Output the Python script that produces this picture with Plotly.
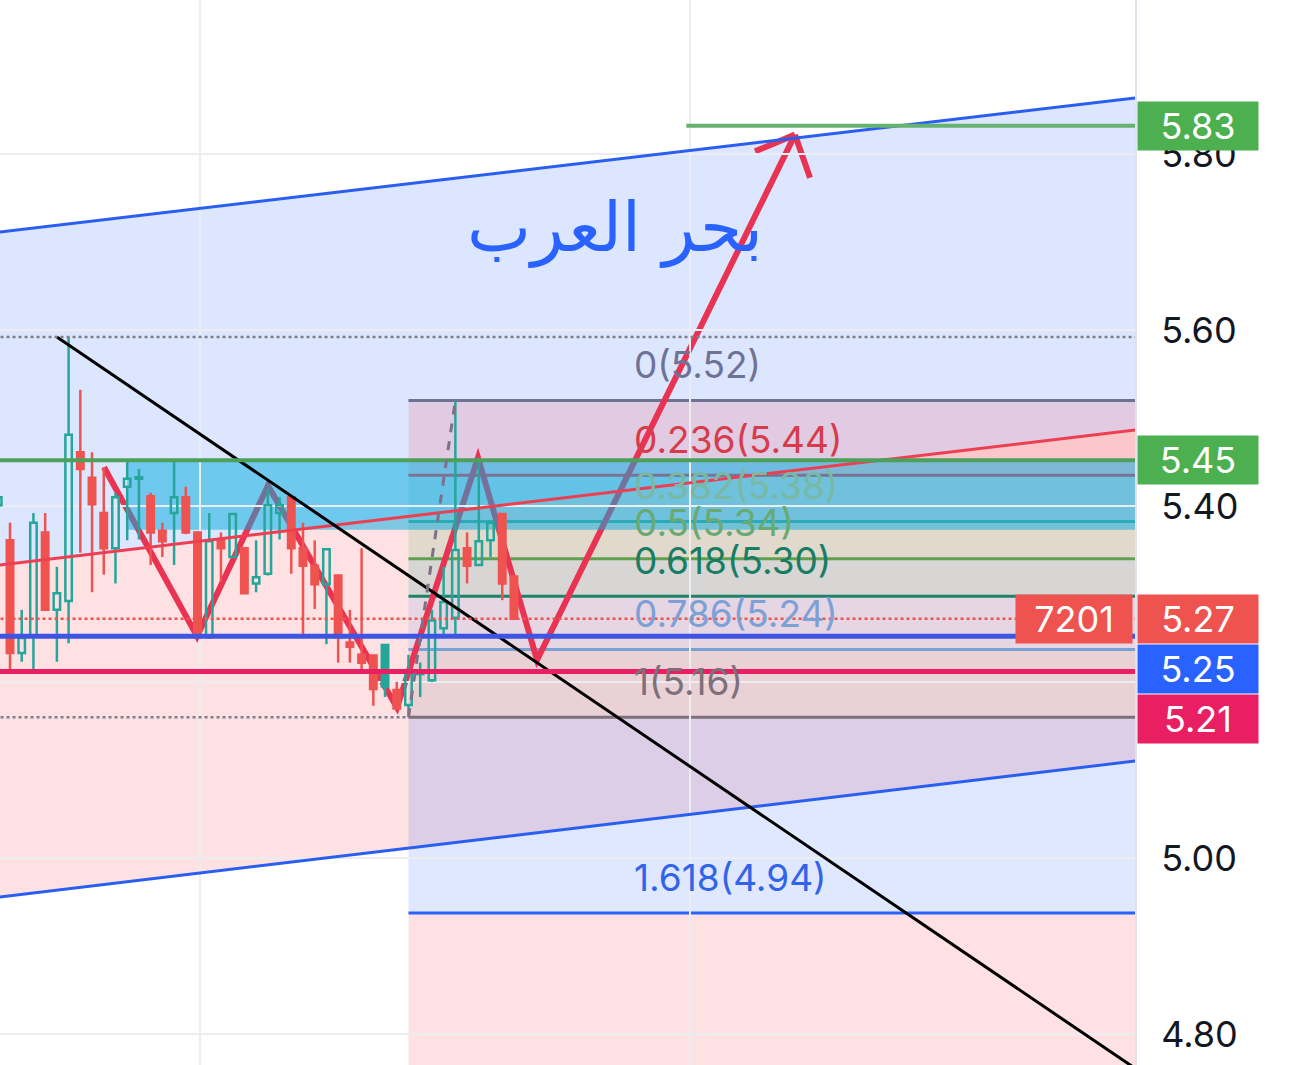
import plotly.graph_objects as go

# ------------------------------------------------------------------ data
candle_idx = list(range(-1, 44))
opens = [5.401, 5.361, 5.233, 5.252, 5.370, 5.282, 5.292, 5.461, 5.432, 5.392,
         5.352, 5.422, 5.431, 5.411, 5.372, 5.392, 5.410, 5.370, 5.251, 5.362,
         5.342, 5.352, 5.312, 5.323, 5.392, 5.410, 5.352, 5.332, 5.311, 5.321,
         5.245, 5.231, 5.230, 5.242, 5.191, 5.174, 5.209, 5.202, 5.261, 5.273,
         5.352, 5.333, 5.361, 5.391, 5.320]
highs = [5.452, 5.381, 5.282, 5.392, 5.392, 5.331, 5.592, 5.532, 5.461, 5.444,
         5.415, 5.450, 5.442, 5.415, 5.381, 5.451, 5.422, 5.371, 5.392, 5.370,
         5.392, 5.353, 5.361, 5.420, 5.410, 5.411, 5.381, 5.361, 5.352, 5.322,
         5.282, 5.352, 5.231, 5.243, 5.200, 5.231, 5.222, 5.282, 5.331, 5.519,
         5.370, 5.455, 5.382, 5.392, 5.321]
lows = [5.382, 5.214, 5.223, 5.214, 5.282, 5.223, 5.244, 5.347, 5.302, 5.322,
        5.312, 5.361, 5.362, 5.333, 5.342, 5.333, 5.368, 5.249, 5.249, 5.314,
        5.341, 5.300, 5.302, 5.321, 5.362, 5.323, 5.251, 5.283, 5.243, 5.222,
        5.222, 5.214, 5.173, 5.183, 5.169, 5.163, 5.183, 5.200, 5.251, 5.251,
        5.312, 5.332, 5.342, 5.293, 5.271]
closes = [5.410, 5.233, 5.250, 5.381, 5.282, 5.301, 5.481, 5.442, 5.402, 5.352,
          5.410, 5.431, 5.432, 5.370, 5.360, 5.410, 5.370, 5.251, 5.360, 5.352,
          5.391, 5.301, 5.319, 5.401, 5.401, 5.352, 5.332, 5.311, 5.351, 5.251,
          5.240, 5.222, 5.192, 5.195, 5.170, 5.210, 5.211, 5.270, 5.291, 5.350,
          5.332, 5.360, 5.381, 5.312, 5.272]

y_range = [4.7648, 5.975]
x_range = [-0.853, 95.99]
price_ticks = [4.8, 5.0, 5.2, 5.4, 5.6, 5.8]
hidden_ticks = [5.2]          # covered by price labels in the reference
time_grid = [16.2, 58.0]

channel_x = [-1, 96]
channel_upper = [5.7111, 5.8636]
channel_mid = [5.3328, 5.4864]
channel_lower = [4.9555, 5.1102]

black_trend_x = [4.0, 96]
black_trend_y = [5.592, 4.761]

fib_anchor_x = [34, 38]
fib_anchor_y = [5.16, 5.52]
fib_ratios = [0, 0.236, 0.382, 0.5, 0.618, 0.786, 1, 1.618, 2.618]

zigzag_x = [8.02, 15.96, 22.01, 33.02, 39.93, 44.97, 66.98]
zigzag_y = [5.444, 5.252, 5.423, 5.171, 5.455, 5.225, 5.822]
arrow_wing_x = [63.57, 68.26]
arrow_wing_y = [5.803, 5.773]

zone_x0 = 10
zone_top = 5.452
zone_bottom = 5.373

level_green = 5.452
level_blue = 5.252
level_crimson = 5.212
target_x0 = 57.7
target_price = 5.832
countdown_text = "7201"
title_text = "بحر العرب"
title_x, title_y = 51.6, 5.716
fib_label_x = 53.07

# ------------------------------------------------------------------ styles
TEAL = "#26A69A"
RED = "#EF5350"
FONT = "Inter"
PLOT_H = 1065
px_per_price = PLOT_H / (y_range[1] - y_range[0])
x_end = x_range[1] + 2
MIN_BODY = 1.5 / px_per_price

fib_line_colors = ["rgb(110,115,150)", "rgb(242,54,69)", "rgb(80,170,140)",
                   "rgb(96,160,80)", "rgb(30,130,105)", "rgb(120,160,215)",
                   "rgb(125,112,122)", "rgb(41,98,255)", "rgb(242,54,69)"]
fib_fill_colors = [None, "rgba(242,54,69,0.15)", "rgba(60,170,150,0.15)",
                   "rgba(76,175,80,0.15)", "rgba(8,153,129,0.15)",
                   "rgba(100,150,225,0.15)", "rgba(120,123,134,0.15)",
                   "rgba(41,98,255,0.15)", "rgba(242,54,69,0.15)"]
fib_label_colors = ["rgb(110,115,150)", "rgb(215,60,75)", "rgb(120,185,165)",
                    "rgb(105,170,115)", "rgb(25,125,100)", "rgb(125,160,215)",
                    "rgb(125,112,122)", "rgb(50,100,235)", None]

fib_high, fib_low = fib_anchor_y[1], fib_anchor_y[0]
fib_levels = [fib_high - r * (fib_high - fib_low) for r in fib_ratios]

fig = go.Figure()
shapes = []


def poly(xs, ys):
    pts = " L ".join(f"{x},{y}" for x, y in zip(xs, ys))
    return f"M {pts} Z"


# channel fills
shapes.append(dict(type="path", xref="x", yref="y", layer="below",
                   path=poly(channel_x + channel_x[::-1], channel_upper + channel_mid[::-1]),
                   fillcolor="rgba(41,98,255,0.16)", line=dict(width=0)))
shapes.append(dict(type="path", xref="x", yref="y", layer="below",
                   path=poly(channel_x + channel_x[::-1], channel_mid + channel_lower[::-1]),
                   fillcolor="rgba(242,54,69,0.15)", line=dict(width=0)))

# fib bands
fx0 = fib_anchor_x[0]
for k in range(1, len(fib_levels)):
    shapes.append(dict(type="rect", xref="x", yref="y", layer="below",
                       x0=fx0, x1=x_end, y0=fib_levels[k], y1=fib_levels[k - 1],
                       fillcolor=fib_fill_colors[k], line=dict(width=0)))
# fib lines
for k in range(len(fib_levels) - 1):
    shapes.append(dict(type="line", xref="x", yref="y", layer="below",
                       x0=fx0, x1=x_end, y0=fib_levels[k], y1=fib_levels[k],
                       line=dict(color=fib_line_colors[k], width=3)))

# projected path (under the zone box)
zig_path = "M " + " L ".join(f"{x},{y}" for x, y in zip(zigzag_x, zigzag_y))
for wx, wy in zip(arrow_wing_x, arrow_wing_y):
    zig_path += f" M {zigzag_x[-1]},{zigzag_y[-1]} L {wx},{wy}"
shapes.append(dict(type="path", xref="x", yref="y", layer="below", path=zig_path,
                   line=dict(color="rgb(232,52,82)", width=6)))

# cyan zone
shapes.append(dict(type="rect", xref="x", yref="y", layer="below",
                   x0=zone_x0, x1=x_end, y0=zone_bottom, y1=zone_top,
                   fillcolor="rgba(10,172,222,0.52)", line=dict(width=0)))

# ------------------------------------------------------------------ candles (hollow style)
groups = {}
for j, i in enumerate(candle_idx):
    hollow = closes[j] > opens[j]
    up = j == 0 or closes[j] >= closes[j - 1]
    groups.setdefault((hollow, up), []).append(j)

wicks = {TEAL: ([], []), RED: ([], [])}
for (hollow, up), js in groups.items():
    col = TEAL if up else RED
    xs = [candle_idx[j] for j in js]
    tops = [max(opens[j], closes[j]) for j in js]
    bots = [min(opens[j], closes[j]) for j in js]
    fig.add_trace(go.Bar(
        x=xs, base=bots, y=[max(t - b, MIN_BODY) for t, b in zip(tops, bots)],
        width=0.55, hoverinfo="skip", showlegend=False,
        marker=dict(color="rgba(0,0,0,0)" if hollow else col,
                    line=dict(color=col, width=2.5))))
    wx, wy = wicks[col]
    for x, j, t, b in zip(xs, js, tops, bots):
        wx += [x, x, None, x, x, None]
        wy += [highs[j], t, None, b, lows[j], None]

for col, (wx, wy) in wicks.items():
    fig.add_trace(go.Scatter(x=wx, y=wy, mode="lines", hoverinfo="skip",
                             showlegend=False, line=dict(color=col, width=2.5)))


def line(xs, ys, color, width, dash="solid"):
    fig.add_trace(go.Scatter(x=xs, y=ys, mode="lines", hoverinfo="skip",
                             showlegend=False,
                             line=dict(color=color, width=width, dash=dash)))


# channel lines / trend lines
line(channel_x, channel_upper, "rgb(41,94,240)", 3)
line(channel_x, channel_lower, "rgb(41,94,240)", 3)
line(channel_x, channel_mid, "rgb(238,62,82)", 3)
line(black_trend_x, black_trend_y, "#000000", 3)

# horizontal levels
full_x = [x_range[0] - 2, x_end]
line(full_x, [highs[candle_idx.index(5)]] * 2, "rgb(125,128,140)", 2.5, "dot")
line([full_x[0], fx0], [fib_low] * 2, "rgb(125,128,140)", 2.5, "dot")
line(full_x, [level_green] * 2, "rgb(76,160,90)", 4)
line(full_x, [closes[-1]] * 2, RED, 2.5, "dot")
line(full_x, [level_blue] * 2, "rgb(62,84,226)", 5)
line(full_x, [level_crimson] * 2, "rgb(233,30,99)", 5)
line([target_x0, x_end], [target_price] * 2, "rgb(102,178,112)", 4)
line(fib_anchor_x, fib_anchor_y, "rgb(125,112,135)", 3, "dash")

# ------------------------------------------------------------------ annotations
annotations = []
for k in range(len(fib_levels) - 1):
    annotations.append(dict(
        x=fib_label_x, y=fib_levels[k], xref="x", yref="y",
        text=f"{fib_ratios[k]:g}({fib_levels[k]:.2f})",
        showarrow=False, xanchor="left", yanchor="middle", yshift=36,
        font=dict(family=FONT, size=37, color=fib_label_colors[k])))

annotations.append(dict(x=title_x, y=title_y, xref="x", yref="y", text=title_text,
                        showarrow=False, xanchor="center", yanchor="middle",
                        font=dict(family="DejaVu Sans", size=68, color="rgb(41,98,255)")))

boxes = [(target_price, "#4CAF50"), (level_green, "#4CAF50"), (closes[-1], RED),
         (level_blue, "#2962FF"), (level_crimson, "#E91E63")]
boxes.sort(key=lambda b: -b[0])
box_h = 48
prev_c = -1e9
for price, col in boxes:
    ypx = (y_range[1] - price) * px_per_price
    c = max(ypx, prev_c + box_h + 2)
    prev_c = c
    annotations.append(dict(
        x=1, xref="paper", xanchor="left", xshift=2, y=price, yref="y",
        yshift=-(c - ypx), yanchor="middle", text=f"{price:.2f}", showarrow=False,
        width=120, height=box_h, bgcolor=col, borderpad=0, align="center",
        font=dict(family=FONT, size=36, color="white")))
    if price == closes[-1]:
        annotations.append(dict(
            x=1, xref="paper", xanchor="right", xshift=-2, y=price, yref="y",
            yshift=-(c - ypx), yanchor="middle", text=countdown_text, showarrow=False,
            width=116, height=box_h, bgcolor=RED, borderpad=0, align="center",
            font=dict(family=FONT, size=36, color="white")))

fig.update_layout(
    width=1290, height=1065,
    margin=dict(l=0, r=155, t=0, b=0),
    paper_bgcolor="white", plot_bgcolor="white",
    showlegend=False, shapes=shapes, annotations=annotations,
    barmode="overlay",
    xaxis=dict(range=x_range, showticklabels=False, tickvals=time_grid,
               showgrid=True, gridcolor="rgb(236,237,241)", gridwidth=2,
               zeroline=False, fixedrange=True),
    yaxis=dict(range=y_range, side="right", tickvals=price_ticks,
               ticktext=["" if t in hidden_ticks else f"{t:.2f}" for t in price_ticks],
               tickfont=dict(family=FONT, size=36, color="#131722"),
               showgrid=True, gridcolor="rgb(236,237,241)", gridwidth=2,
               zeroline=False, showline=True, linecolor="rgb(224,227,235)",
               linewidth=2, ticks="", ticklabelstandoff=17, fixedrange=True),
)

fig.write_html("out.html",
               config={"displayModeBar": False, "staticPlot": True},
               post_script="document.body.style.margin='0px';"
                           "document.body.style.overflow='hidden';")
